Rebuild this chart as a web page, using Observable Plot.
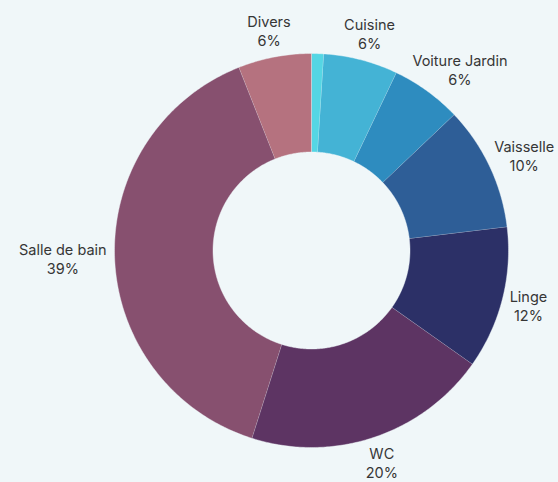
<!DOCTYPE html>
<html><head><meta charset="utf-8">
<script src="https://cdn.jsdelivr.net/npm/d3@7"></script>
<script src="https://cdn.jsdelivr.net/npm/@observablehq/plot@0.6"></script>
<style>html,body{margin:0;padding:0;background:#f0f7f9;} #chart{width:558px;height:482px;}</style>
</head><body><div id="chart"></div>
<script>
// Data
const categories = ["Autre", "Cuisine", "Voiture Jardin", "Vaisselle", "Linge", "WC", "Salle de bain", "Divers"];
const values = [1.0, 6.1, 5.8, 10.2, 11.7, 20.1, 39.1, 6.0];
const colors = ["#55d6e4", "#44b3d5", "#2e8cbf", "#2e5e97", "#2c3067", "#5d3463", "#87506f", "#b5727f"];

// Layout
const W = 558, H = 482, R = 197, INNER = 0.5, cx = 311, cy = 250, LABEL_R = 205;
const FS = 14.5, LH = 1.3;

const total = d3.sum(values);
let acc = 0;
const slices = categories.map((c, i) => {
  const a0 = acc / total * 2 * Math.PI;
  acc += values[i];
  const a1 = acc / total * 2 * Math.PI;
  return {c, i, a0, a1, v: values[i]};
});

const poly = [];
for (const s of slices) {
  const n = Math.max(2, Math.ceil((s.a1 - s.a0) / 0.01));
  for (let k = 0; k <= n; k++) {
    const a = s.a0 + (s.a1 - s.a0) * k / n;
    poly.push({cat: s.c, x: Math.sin(a), y: -Math.cos(a)});
  }
  for (let k = n; k >= 0; k--) {
    const a = s.a0 + (s.a1 - s.a0) * k / n;
    poly.push({cat: s.c, x: INNER * Math.sin(a), y: -INNER * Math.cos(a)});
  }
}

const ctx = document.createElement("canvas").getContext("2d");
ctx.font = FS + "px Inter";
const labels = slices.filter(s => s.v / total >= 0.02).map(s => {
  const m = (s.a0 + s.a1) / 2;
  const txt = [s.c, Math.round(s.v / total * 100) + "%"];
  const w = d3.max(txt, t => ctx.measureText(t).width);
  const h = 2 * FS * LH;
  const px = LABEL_R * Math.sin(m) + w / 2 * Math.sin(m);
  const py = -LABEL_R * Math.cos(m) - h / 2 * Math.cos(m);
  return {text: txt.join("\n"), x: px / R, y: py / R};
});

const chart = Plot.plot({
  width: W, height: H, margin: 0,
  x: {domain: [-cx / R, (W - cx) / R], range: [0, W], axis: null},
  y: {domain: [-cy / R, (H - cy) / R], range: [0, H], axis: null},
  color: {domain: categories, range: colors},
  style: {background: "#f0f7f9", fontFamily: "Inter, sans-serif", overflow: "visible"},
  marks: [
    Plot.line(poly, {x: "x", y: "y", z: "cat", fill: "cat", stroke: "#f0f7f9", strokeWidth: 0.6, strokeOpacity: 0.7}),
    Plot.text(labels, {x: "x", y: "y", text: "text", fontSize: FS, lineHeight: LH, fill: "#363636"})
  ]
});
document.getElementById("chart").appendChild(chart);
</script>
</body></html>
